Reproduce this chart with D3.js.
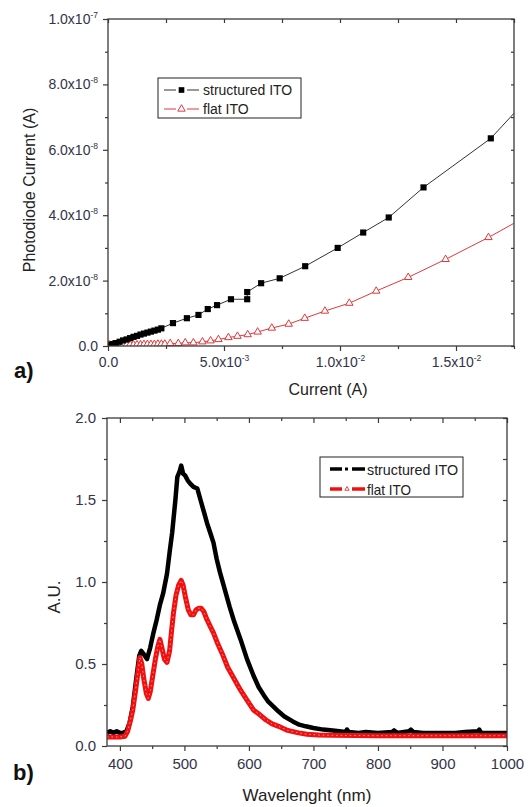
<!DOCTYPE html>
<html>
<head>
<meta charset="utf-8">
<script src="https://cdn.jsdelivr.net/npm/d3@7/dist/d3.min.js"></script>
<style>
  body { margin: 0; background: #fff; }
  svg { display: block; }
  text { font-family: "Liberation Sans", Arial, sans-serif; }
</style>
</head>
<body>
<svg id="fig" width="531" height="807"></svg>
<script>
// ---- panel a) photodiode current vs current ----
const structCurrent = [0.05,0.2,0.35,0.5,0.65,0.8,0.95,1.1,1.25,1.4,1.55,1.7,1.85,2.0,2.15,2.3,
  2.8,3.4,3.9,4.3,4.7,5.3,6.0,6.0,6.6,7.4,8.5,9.9,11.0,12.1,13.6,16.5,18.0].map(v => v * 1e-3);
const structPhoto = [0.3,0.6,0.9,1.3,1.7,2.0,2.4,2.8,3.1,3.5,3.8,4.1,4.4,4.7,5.0,5.4,
  7.0,8.5,9.5,11.3,12.5,14.3,14.3,16.5,19.2,20.7,24.4,30.0,34.7,39.3,48.5,63.5,75.0].map(v => v * 1e-9);

const flatCurrent = [0.05,0.2,0.35,0.5,0.65,0.8,0.95,1.1,1.25,1.4,1.55,1.7,1.85,2.0,2.15,2.3,2.45,
  2.68,3.03,3.33,3.68,4.07,4.42,4.76,5.19,5.58,6.02,6.45,
  7.06,7.79,8.48,9.35,10.4,11.56,12.94,14.55,16.4,18.0].map(v => v * 1e-3);
const flatPhoto = [0.4,0.4,0.4,0.4,0.4,0.4,0.4,0.4,0.4,0.4,0.5,0.5,0.5,0.5,0.6,0.6,0.6,
  0.8,0.8,1.0,1.0,1.3,1.6,2.0,2.6,3.0,3.5,4.3,
  5.5,6.7,8.5,10.7,13.1,16.8,21.0,26.5,33.2,39.5].map(v => v * 1e-9);

// ---- panel b) emission spectra ----
const structWl = [380,385,390,395,400,405,410,415,420,425,430,433,437,442,447,452,457,462,467,473,477,481,486,489,493,495,498,501,505,509,514,520,525,530,535,540,545,550,555,560,565,570,577,587,597,607,615,623,630,638,646,655,668,678,688,700,715,730,740,750,752,755,770,781,800,822,825,830,848,851,855,870,900,920,935,955,957,960,980,1000];
const structAU = [0.08,0.09,0.08,0.09,0.08,0.08,0.09,0.14,0.24,0.40,0.55,0.58,0.56,0.53,0.60,0.69,0.77,0.86,0.93,1.05,1.18,1.30,1.50,1.64,1.68,1.71,1.66,1.65,1.62,1.60,1.58,1.57,1.50,1.43,1.36,1.30,1.24,1.14,1.06,0.99,0.92,0.85,0.76,0.65,0.53,0.43,0.36,0.31,0.27,0.24,0.21,0.18,0.15,0.13,0.12,0.11,0.10,0.095,0.09,0.085,0.10,0.085,0.08,0.085,0.08,0.085,0.095,0.08,0.09,0.10,0.085,0.08,0.08,0.08,0.085,0.09,0.10,0.08,0.08,0.08];

const flatWl = [380,390,400,408,412,416,420,424,428,431,434,437,441,444,447,451,455,459,462,465,469,473,477,480,483,487,491,495,498,502,506,510,514,518,522,526,530,535,540,545,552,560,567,577,587,597,607,617,626,636,646,660,677,690,708,730,800,900,1000];
const flatAU = [0.055,0.055,0.055,0.06,0.09,0.15,0.22,0.33,0.45,0.54,0.50,0.41,0.32,0.29,0.33,0.43,0.53,0.61,0.65,0.60,0.53,0.51,0.58,0.70,0.81,0.92,0.98,1.01,0.98,0.90,0.83,0.80,0.80,0.83,0.84,0.84,0.82,0.77,0.73,0.69,0.62,0.55,0.48,0.41,0.34,0.28,0.22,0.19,0.16,0.135,0.12,0.095,0.08,0.072,0.067,0.065,0.063,0.063,0.063];

const seriesNames = ["structured ITO", "flat ITO"];

const svg = d3.select("#fig");
const axisColor = "#3a3a3a";
const labelColor = "#33334a";

// "1.0x10" + superscript exponent
function sciParts(v) {
  if (v === 0) return ["0.0", null];
  const e = Math.floor(Math.log10(Math.abs(v)) + 1e-9);
  const m = v / Math.pow(10, e);
  return [m.toFixed(1) + "x10", String(e)];
}

function sciLabels(sel) {
  sel.selectAll(".tick text").each(function (d) {
    const t = d3.select(this);
    const [main, ex] = sciParts(d);
    t.text(null);
    t.append("tspan").text(main);
    if (ex) t.append("tspan").attr("dy", -6).attr("font-size", 8.5).text(ex);
  });
}

function styleAxis(g) {
  g.select(".domain").remove();
  g.selectAll(".tick line").attr("stroke", axisColor).attr("stroke-width", 1.2);
  g.selectAll(".tick text").attr("fill", labelColor).attr("font-family", "Liberation Sans, Arial, sans-serif");
}

function frame(x, y) {
  const [x0, x1] = x.range(), [y0, y1] = y.range();
  svg.append("rect")
    .attr("x", x0).attr("y", y1).attr("width", x1 - x0).attr("height", y0 - y1)
    .attr("fill", "none").attr("stroke", axisColor).attr("stroke-width", 1.3);
}

// ================= panel a =================
const xa = d3.scaleLinear().domain([0, 0.0175]).range([108, 514]);
const ya = d3.scaleLinear().domain([0, 1e-7]).range([346, 19]);

const xaMajor = [0, 0.005, 0.01, 0.015];
const xaMinor = [0.0025, 0.0075, 0.0125, 0.0175];
const yaMajor = [0, 2e-8, 4e-8, 6e-8, 8e-8, 1e-7];
const yaMinor = [1e-8, 3e-8, 5e-8, 7e-8, 9e-8];

svg.append("g").attr("transform", `translate(0,${ya.range()[0]})`)
  .call(d3.axisBottom(xa).tickValues(xaMajor).tickSize(5).tickPadding(6))
  .call(styleAxis).call(sciLabels)
  .selectAll(".tick text").attr("font-size", 14);
svg.append("g").attr("transform", `translate(0,${ya.range()[0]})`)
  .call(d3.axisBottom(xa).tickValues(xaMinor).tickSize(3).tickFormat(""))
  .call(styleAxis);
svg.append("g").attr("transform", `translate(0,${ya.range()[1]})`)
  .call(d3.axisTop(xa).tickValues(xaMajor.concat(xaMinor)).tickSize(-4).tickFormat(""))
  .call(styleAxis);

svg.append("g").attr("transform", `translate(${xa.range()[0]},0)`)
  .call(d3.axisLeft(ya).tickValues(yaMajor).tickSize(5).tickPadding(5))
  .call(styleAxis).call(sciLabels)
  .selectAll(".tick text").attr("font-size", 14);
svg.append("g").attr("transform", `translate(${xa.range()[0]},0)`)
  .call(d3.axisLeft(ya).tickValues(yaMinor).tickSize(3).tickFormat(""))
  .call(styleAxis);
svg.append("g").attr("transform", `translate(${xa.range()[1]},0)`)
  .call(d3.axisRight(ya).tickValues(yaMajor.concat(yaMinor)).tickSize(-3).tickFormat(""))
  .call(styleAxis);

svg.append("clipPath").attr("id", "clipA").append("rect")
  .attr("x", 108).attr("y", 19).attr("width", 406).attr("height", 327);

const plotA = svg.append("g").attr("clip-path", "url(#clipA)");
const lineA = d3.line().x(d => xa(d[0])).y(d => ya(d[1]));

const flatPts = d3.zip(flatCurrent, flatPhoto);
const structPts = d3.zip(structCurrent, structPhoto);

plotA.append("path").datum(flatPts).attr("d", lineA)
  .attr("fill", "none").attr("stroke", "#e0383b").attr("stroke-width", 1);
plotA.append("path").datum(structPts).attr("d", lineA)
  .attr("fill", "none").attr("stroke", "#333").attr("stroke-width", 1);

plotA.selectAll(".tri").data(flatPts).enter().append("path")
  .attr("class", "tri")
  .attr("transform", d => `translate(${xa(d[0])},${ya(d[1])})`)
  .attr("d", d3.symbol(d3.symbolTriangle, 24))
  .attr("fill", "#fff").attr("stroke", "#e0383b").attr("stroke-width", 1);
plotA.selectAll(".sq").data(structPts).enter().append("path")
  .attr("class", "sq")
  .attr("transform", d => `translate(${xa(d[0])},${ya(d[1])})`)
  .attr("d", d3.symbol(d3.symbolSquare, 38))
  .attr("fill", "#000");

frame(xa, ya);

// legend a
const legA = svg.append("g");
legA.append("rect").attr("x", 158).attr("y", 78).attr("width", 143).attr("height", 40)
  .attr("fill", "#fff").attr("stroke", "#222").attr("stroke-width", 1);
[[90, "#333", "sq"], [109, "#e0383b", "tri"]].forEach(([cy, col, kind], i) => {
  legA.append("line").attr("x1", 164).attr("x2", 176).attr("y1", cy).attr("y2", cy).attr("stroke", col);
  legA.append("line").attr("x1", 187).attr("x2", 199).attr("y1", cy).attr("y2", cy).attr("stroke", col);
  const m = legA.append("path").attr("transform", `translate(181.5,${cy})`);
  if (kind === "sq") m.attr("d", d3.symbol(d3.symbolSquare, 32)).attr("fill", "#000");
  else m.attr("d", d3.symbol(d3.symbolTriangle, 24)).attr("fill", "#fff").attr("stroke", col);
  legA.append("text").attr("x", 203).attr("y", cy + 5).attr("font-size", 14)
    .attr("fill", "#222").text(seriesNames[i]);
});

svg.append("text").attr("transform", "translate(35,190) rotate(-90)")
  .attr("text-anchor", "middle").attr("font-size", 16).attr("fill", "#222")
  .text("Photodiode Current (A)");
svg.append("text").attr("x", 328).attr("y", 395)
  .attr("text-anchor", "middle").attr("font-size", 16).attr("fill", "#222")
  .text("Current (A)");
svg.append("text").attr("x", 14).attr("y", 378)
  .attr("font-family", "Liberation Serif, Times New Roman, serif").attr("font-weight", "bold")
  .attr("font-size", 22).attr("fill", "#111").text("a)");

// ================= panel b =================
const xb = d3.scaleLinear().domain([380, 1000]).range([107, 507]);
const yb = d3.scaleLinear().domain([0, 2]).range([746, 418]);

const xbMajor = d3.range(400, 1001, 100);
const xbMinor = d3.range(450, 1000, 100);
const ybMajor = [0, 0.5, 1.0, 1.5, 2.0];
const ybMinor = [0.25, 0.75, 1.25, 1.75];

svg.append("g").attr("transform", `translate(0,${yb.range()[0]})`)
  .call(d3.axisBottom(xb).tickValues(xbMajor).tickSize(5).tickPadding(7).tickFormat(d3.format("d")))
  .call(styleAxis)
  .selectAll(".tick text").attr("font-size", 15);
svg.append("g").attr("transform", `translate(0,${yb.range()[0]})`)
  .call(d3.axisBottom(xb).tickValues(xbMinor).tickSize(3).tickFormat(""))
  .call(styleAxis);
svg.append("g").attr("transform", `translate(0,${yb.range()[1]})`)
  .call(d3.axisTop(xb).tickValues(xbMajor).tickSize(-5).tickFormat(""))
  .call(styleAxis);
svg.append("g").attr("transform", `translate(0,${yb.range()[1]})`)
  .call(d3.axisTop(xb).tickValues(xbMinor).tickSize(-3).tickFormat(""))
  .call(styleAxis);

svg.append("g").attr("transform", `translate(${xb.range()[0]},0)`)
  .call(d3.axisLeft(yb).tickValues(ybMajor).tickSize(5).tickPadding(6).tickFormat(d3.format(".1f")))
  .call(styleAxis)
  .selectAll(".tick text").attr("font-size", 15);
svg.append("g").attr("transform", `translate(${xb.range()[0]},0)`)
  .call(d3.axisLeft(yb).tickValues(ybMinor).tickSize(3).tickFormat(""))
  .call(styleAxis);
svg.append("g").attr("transform", `translate(${xb.range()[1]},0)`)
  .call(d3.axisRight(yb).tickValues(ybMajor.concat(ybMinor)).tickSize(-4).tickFormat(""))
  .call(styleAxis);

svg.append("clipPath").attr("id", "clipB").append("rect")
  .attr("x", 107).attr("y", 418).attr("width", 400).attr("height", 328);
const plotB = svg.append("g").attr("clip-path", "url(#clipB)");
const lineB = d3.line().x(d => xb(d[0])).y(d => yb(d[1]));

plotB.append("path").datum(d3.zip(structWl, structAU)).attr("d", lineB)
  .attr("fill", "none").attr("stroke", "#000").attr("stroke-width", 4.5)
  .attr("stroke-linejoin", "round");
const flatB = d3.zip(flatWl, flatAU);
plotB.append("path").datum(flatB).attr("d", lineB)
  .attr("fill", "none").attr("stroke", "#f01010").attr("stroke-width", 5)
  .attr("stroke-linejoin", "round");
plotB.append("path").datum(flatB).attr("d", lineB)
  .attr("fill", "none").attr("stroke", "#ff9a9a").attr("stroke-width", 1)
  .attr("stroke-dasharray", "1.5,3");

frame(xb, yb);

// legend b
const legB = svg.append("g");
legB.append("rect").attr("x", 320).attr("y", 457).attr("width", 143).attr("height", 40)
  .attr("fill", "#fff").attr("stroke", "#222").attr("stroke-width", 1);
[[469, "#000"], [489, "#f01010"]].forEach(([cy, col], i) => {
  legB.append("line").attr("x1", 330).attr("x2", 342).attr("y1", cy).attr("y2", cy)
    .attr("stroke", col).attr("stroke-width", 3.5);
  legB.append("line").attr("x1", 352).attr("x2", 365).attr("y1", cy).attr("y2", cy)
    .attr("stroke", col).attr("stroke-width", 3.5);
  if (i === 0) legB.append("rect").attr("x", 345).attr("y", cy - 1.5).attr("width", 3).attr("height", 3).attr("fill", col);
  else legB.append("path").attr("transform", `translate(347,${cy})`)
    .attr("d", d3.symbol(d3.symbolTriangle, 8)).attr("fill", "none").attr("stroke", col).attr("stroke-width", 0.8);
  legB.append("text").attr("x", 367).attr("y", cy + 5.5).attr("font-size", 15)
    .attr("textLength", i === 0 ? 91 : 44).attr("lengthAdjust", "spacingAndGlyphs")
    .attr("fill", "#222").text(seriesNames[i]);
});

svg.append("text").attr("transform", "translate(60,597) rotate(-90)")
  .attr("text-anchor", "middle").attr("font-size", 17).attr("fill", "#222")
  .text("A.U.");
svg.append("text").attr("x", 307).attr("y", 801)
  .attr("text-anchor", "middle").attr("font-size", 17).attr("fill", "#222")
  .text("Wavelenght (nm)");
svg.append("text").attr("x", 13).attr("y", 780)
  .attr("font-family", "Liberation Serif, Times New Roman, serif").attr("font-weight", "bold")
  .attr("font-size", 22).attr("fill", "#111").text("b)");
</script>
</body>
</html>
